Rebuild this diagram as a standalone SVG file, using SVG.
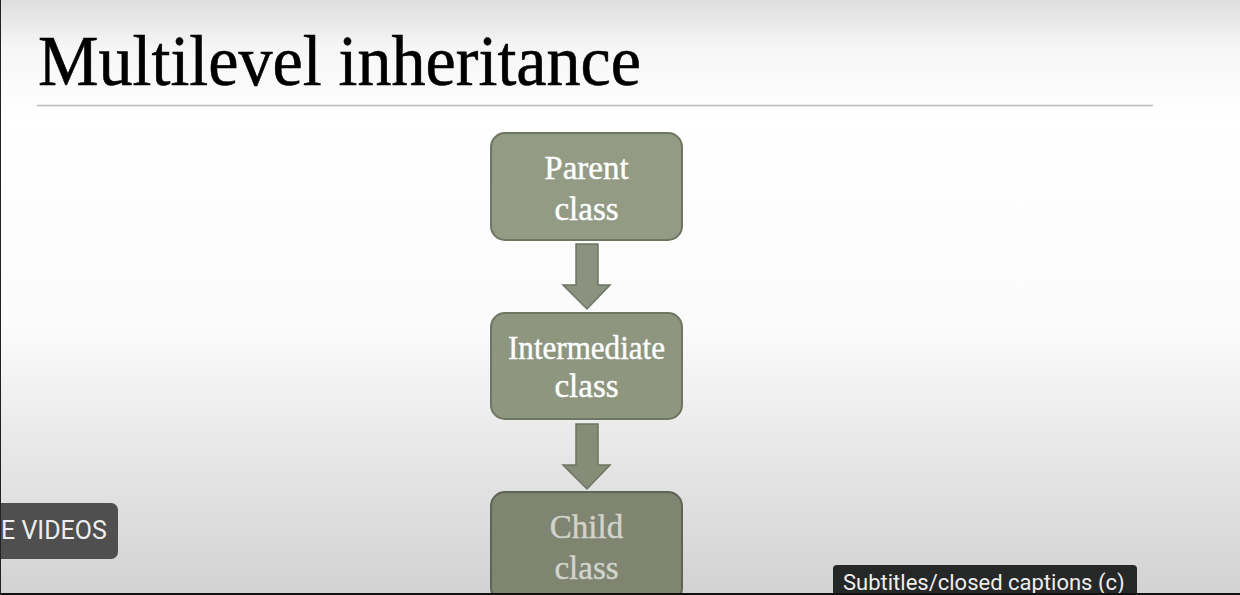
<svg xmlns="http://www.w3.org/2000/svg" width="1240" height="595" viewBox="0 0 1240 595">
<defs>
<linearGradient id="bg" x1="0" y1="0" x2="0" y2="1">
<stop offset="0" stop-color="#dedede"/>
<stop offset="0.08" stop-color="#f6f6f6"/>
<stop offset="0.2" stop-color="#ffffff"/>
<stop offset="0.55" stop-color="#fbfbfb"/>
<stop offset="0.75" stop-color="#e8e8e8"/>
<stop offset="1" stop-color="#d2d2d2"/>
</linearGradient>
<style>
.box{fill:#939b85;stroke:#6e7562;stroke-width:2}
.arrow{fill:#8b9380;stroke:#6e7562;stroke-width:1.5}
.lbl{font-family:"Liberation Serif","Times New Roman",serif;font-size:33px;fill:#ffffff;text-anchor:middle;stroke:#ffffff;stroke-width:0.4}
.title{font-family:"Liberation Serif","Times New Roman",serif;font-size:72px;fill:#000;stroke:#000;stroke-width:0.6}
.ui{font-family:Roboto,"Liberation Sans",sans-serif;fill:#eeeeee}
</style>
</defs>
<rect x="0" y="0" width="1240" height="595" fill="url(#bg)"/>
<text class="title" x="38" y="85" textLength="603" lengthAdjust="spacingAndGlyphs">Multilevel inheritance</text>
<line x1="37" y1="105.5" x2="1153" y2="105.5" stroke="#bdbdbd" stroke-width="1.5"/>
<g id="connectors">
<polygon class="arrow" points="576,244 598,244 598,285 610,285 587,309 563,285 576,285"/>
<polygon class="arrow" points="576,424 598,424 598,465 610,465 587,489 563,465 576,465" style="fill:#858c78"/>
</g>
<g id="parent">
<rect class="box" x="491" y="133" width="191" height="107" rx="14"/>
<text class="lbl" x="586.5" y="179">Parent</text>
<text class="lbl" x="586.5" y="220">class</text>
</g>
<g id="intermediate">
<rect class="box" x="491" y="313" width="191" height="106" rx="14" style="fill:#8e9680"/>
<text class="lbl" x="586.5" y="359" textLength="157" lengthAdjust="spacingAndGlyphs">Intermediate</text>
<text class="lbl" x="586.5" y="397">class</text>
</g>
<g id="child">
<rect class="box" x="491" y="492" width="191" height="110" rx="14" style="fill:#7f8571;stroke:#5f6554"/>
<text class="lbl" x="586.5" y="538" style="fill:#d2d4cc;stroke:#d2d4cc">Child</text>
<text class="lbl" x="586.5" y="579" style="fill:#d2d4cc;stroke:#d2d4cc">class</text>
</g>
<g id="videos-overlay">
<path d="M0,503 H111 a7,7 0 0 1 7,7 V552 a7,7 0 0 1 -7,7 H0 Z" fill="#4f4f4f"/>
<text class="ui" x="1" y="539" font-size="25">E VIDEOS</text>
</g>
<g id="captions-overlay">
<path d="M833,569 a4,4 0 0 1 4,-4 H1133 a4,4 0 0 1 4,4 V595 H833 Z" fill="#262727"/>
<text class="ui" x="843" y="590" font-size="22">Subtitles/closed captions (c)</text>
</g>
<rect x="0" y="593" width="1240" height="2" fill="#111"/>
<rect x="0" y="0" width="1" height="595" fill="#222"/>
</svg>
